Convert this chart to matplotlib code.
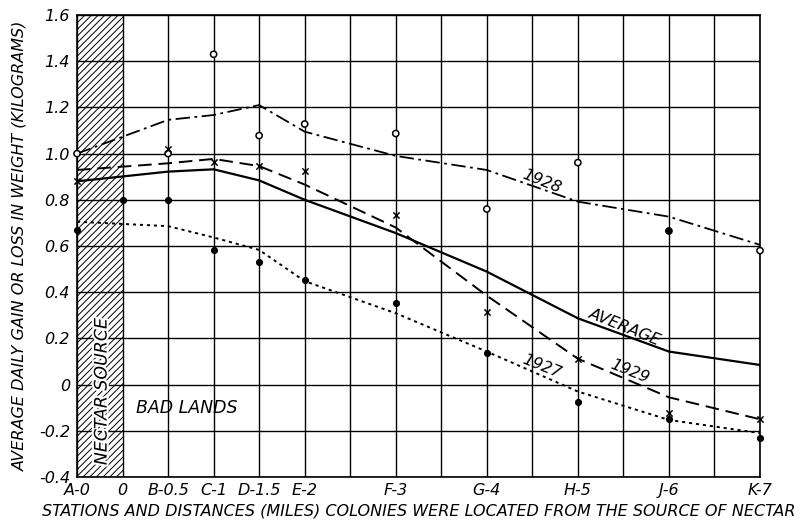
import matplotlib
matplotlib.use("Agg")
import matplotlib.pyplot as plt
from matplotlib.ticker import MultipleLocator, FixedLocator
import matplotlib.patheffects as pe

# ---------------- data ----------------
station_labels = ["A-0", "0", "B-0.5", "C-1", "D-1.5", "E-2", "F-3", "G-4", "H-5", "J-6", "K-7"]
label_pos = [-0.5, 0, 0.5, 1, 1.5, 2, 3, 4, 5, 6, 7]

station_pos = [-0.5, 0.5, 1, 1.5, 2, 3, 4, 5, 6, 7]

curve_1928 = [1.0, 1.146, 1.167, 1.21, 1.095, 0.99, 0.929, 0.792, 0.727, 0.605]
curve_1929 = [0.929, 0.958, 0.977, 0.946, 0.866, 0.68, 0.385, 0.112, -0.055, -0.15]
curve_1927 = [0.705, 0.686, 0.637, 0.583, 0.448, 0.309, 0.143, -0.03, -0.153, -0.21]
curve_avg = [0.88, 0.922, 0.932, 0.884, 0.80, 0.656, 0.489, 0.287, 0.143, 0.085]

pts_1928 = [1.0, 1.0, 1.43, 1.078, 1.128, 1.087, 0.76, 0.961, 0.665, 0.58]
pts_1928_filled = [False, False, False, False, False, False, False, False, True, False]
pts_1929 = [0.881, 1.02, 0.964, 0.947, 0.924, 0.734, 0.316, 0.11, -0.121, -0.15]
pts_1927_pos = [-0.5, 0, 0.5, 1, 1.5, 2, 3, 4, 5, 6, 7]
pts_1927 = [0.67, 0.797, 0.797, 0.584, 0.531, 0.453, 0.352, 0.136, -0.074, -0.15, -0.232]

y_ticks = [-0.4, -0.2, 0, 0.2, 0.4, 0.6, 0.8, 1.0, 1.2, 1.4, 1.6]
y_tick_labels = ["-0.4", "-0.2", "0", "0.2", "0.4", "0.6", "0.8", "1.0", "1.2", "1.4", "1.6"]

# ---------------- figure ----------------
FONT = "DejaVu Sans"
plt.rcParams['hatch.linewidth'] = 0.7
fig = plt.figure(figsize=(8, 5.27), dpi=100)
ax = fig.add_axes([77/800, 1-477/527, (760-77)/800, (477-15)/527])

ax.set_xlim(-0.5, 7)
ax.set_ylim(-0.4, 1.6)

# hatched nectar source
ax.axvspan(-0.5, 0, facecolor="white", edgecolor="black", hatch="/////", linewidth=0, zorder=0.5)

ax.xaxis.set_major_locator(FixedLocator(label_pos))
ax.set_xticklabels(station_labels)
ax.xaxis.set_minor_locator(MultipleLocator(0.5))
ax.set_yticks(y_ticks)
ax.set_yticklabels(y_tick_labels)
ax.grid(True, which="both", color="black", linewidth=1.0, zorder=1)
ax.set_axisbelow(False)
ax.tick_params(which="both", length=0)
ax.tick_params(axis="x", pad=4)
ax.tick_params(axis="y", pad=5)
for lab in ax.get_xticklabels() + ax.get_yticklabels():
    lab.set_fontfamily(FONT)
    lab.set_fontstyle("italic")
    lab.set_fontsize(11.5)
for s in ax.spines.values():
    s.set_linewidth(1.2)
    s.set_color("black")

# curves
ax.plot(station_pos, curve_1928, color="black", lw=1.3, linestyle=(0, (8, 2.5, 1.5, 2.5)), zorder=3)
ax.plot(station_pos, curve_1929, color="black", lw=1.4, linestyle=(0, (7, 3.5)), zorder=3)
ax.plot(station_pos, curve_1927, color="black", lw=1.4, linestyle=(0, (1.6, 2.0)), zorder=3)
ax.plot(station_pos, curve_avg, color="black", lw=1.6, linestyle="-", zorder=3)

# data points
fc = ["black" if f else "white" for f in pts_1928_filled]
ax.scatter(station_pos, pts_1928, s=20, facecolors=fc, edgecolors="black", linewidths=1.1, zorder=4, clip_on=False)
ax.scatter(station_pos, pts_1929, s=20, marker="x", color="black", linewidths=1.1, zorder=4, clip_on=False)
ax.scatter(pts_1927_pos, pts_1927, s=17, color="black", zorder=4, clip_on=False)

# labels on curves
txt = dict(fontfamily=FONT, fontstyle="italic", fontsize=11.5, color="black",
           ha="center", va="center", rotation_mode="anchor", zorder=5)
ax.text(4.6, 0.88, "1928", rotation=-22, **txt)
ax.text(5.52, 0.25, "AVERAGE", rotation=-22, **txt)
ax.text(5.57, 0.055, "1929", rotation=-22, **txt)
ax.text(4.6, 0.08, "1927", rotation=-22, **txt)

ax.text(0.71, -0.10, "BAD LANDS", fontfamily=FONT, fontstyle="italic", fontsize=12.5,
        ha="center", va="center", zorder=5)
ax.text(-0.23, -0.03, "NECTAR SOURCE", rotation=90, fontfamily=FONT, fontstyle="italic",
        fontsize=12.5, ha="center", va="center", zorder=5,
        path_effects=[pe.withStroke(linewidth=3, foreground="white")])

ax.set_xlabel("STATIONS AND DISTANCES (MILES) COLONIES WERE LOCATED FROM THE SOURCE OF NECTAR",
              fontfamily=FONT, fontstyle="italic", fontsize=11.5, labelpad=4)
ax.set_ylabel("AVERAGE DAILY GAIN OR LOSS IN WEIGHT (KILOGRAMS)",
              fontfamily=FONT, fontstyle="italic", fontsize=11.5, labelpad=8)

fig.savefig("out.png", dpi=100, facecolor="white")
